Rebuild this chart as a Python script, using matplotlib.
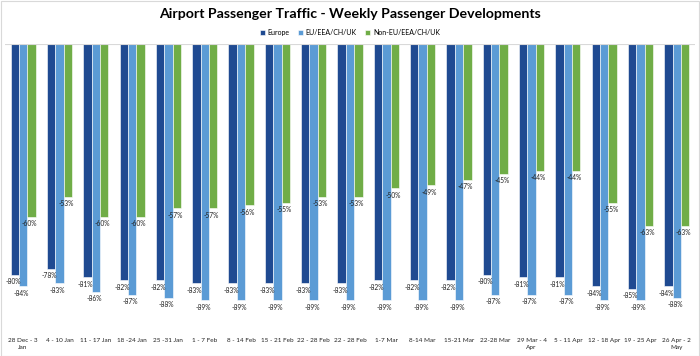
import numpy as np
from matplotlib import pyplot as plt

weeks = ["28 Dec - 3\nJan", "4 - 10 Jan", "11 - 17 Jan", "18 -24 Jan", "25 -31 Jan",
         "1 - 7 Feb", "8 - 14 Feb", "15 - 21 Feb", "22 - 28 Feb", "22 - 28 Feb",
         "1-7 Mar", "8-14 Mar", "15-21 Mar", "22-28 Mar", "29 Mar - 4\nApr",
         "5 - 11 Apr", "12 - 18 Apr", "19 - 25 Apr", "26 Apr - 2\nMay"]
europe = [-80, -78, -81, -82, -82, -83, -83, -83, -83, -83, -82, -82, -82, -80, -81, -81, -84, -85, -84]
eu = [-84, -83, -86, -87, -88, -89, -89, -89, -89, -89, -89, -89, -89, -87, -87, -87, -89, -89, -88]
non_eu = [-60, -53, -60, -60, -57, -57, -56, -55, -53, -53, -50, -49, -47, -45, -44, -44, -55, -63, -63]

series = [("Europe", europe, "#1F4A91"),
          ("EU/EEA/CH/UK", eu, "#5B9BD5"),
          ("Non-EU/EEA/CH/UK", non_eu, "#70AD47")]

plt.rcParams['font.family'] = ['Lato', 'DejaVu Sans']

fig = plt.figure(figsize=(7, 3.56), dpi=100)
ax = fig.add_axes([0.007, 0.067, 0.986, 0.809])

x = np.arange(len(weeks))
w = 0.23
for i, (name, vals, col) in enumerate(series):
    pos = x + (i - 1) * w
    ax.bar(pos, vals, w, color=col, label=name, edgecolor='white', linewidth=0.4)
    for p, v in zip(pos, vals):
        ax.text(p - 0.05, v - 1.2, f"{v}%", ha='center', va='top', fontsize=4.8, color='#222222')

ax.set_xlim(-0.5, len(weeks) - 0.5)
ax.set_ylim(-100, 0)
ax.axhline(0, color='#d9d9d9', lw=0.8)
for s in ax.spines.values():
    s.set_visible(False)
ax.set_yticks([])
ax.set_xticks([])
for xi, lab in zip(x, weeks):
    ax.text(xi, -102.2, lab, ha='center', va='top', fontsize=4.6, color='#222222', linespacing=1.35)

fig.text(0.5, 0.96, "Airport Passenger Traffic - Weekly Passenger Developments",
         ha='center', va='center', fontsize=10.2, fontweight='bold')
fig.legend(loc='center', bbox_to_anchor=(0.5, 0.91), ncol=3, frameon=False, fontsize=5,
           handlelength=0.7, handleheight=0.7, handletextpad=0.4, columnspacing=1.2)

fig.add_artist(plt.Rectangle((0.001, 0.001), 0.998, 0.997, transform=fig.transFigure,
                             fill=False, edgecolor='#d9d9d9', lw=0.8))

plt.savefig('out.png', dpi=100)
